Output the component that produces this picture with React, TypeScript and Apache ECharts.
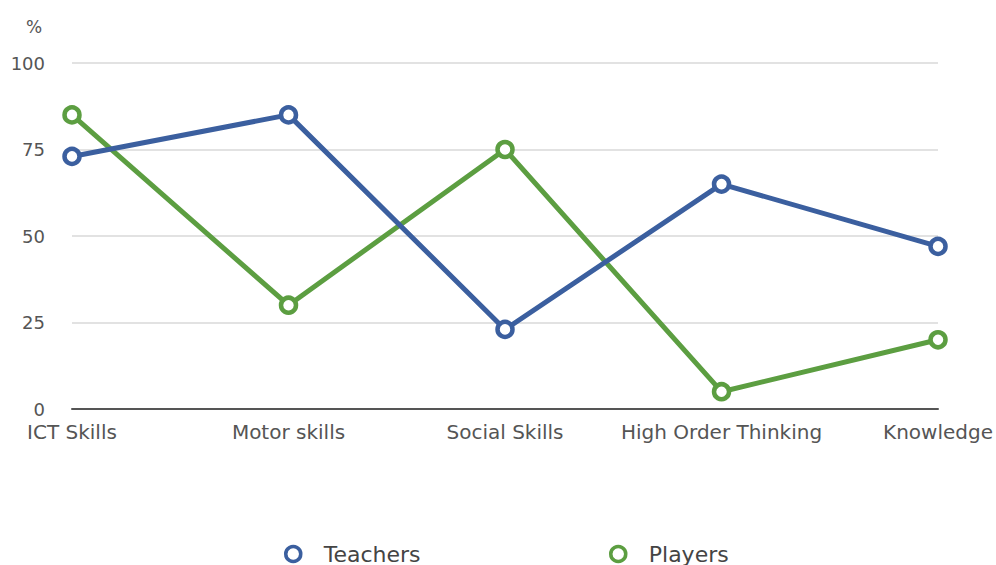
import React, { useEffect, useRef } from "react";
import * as echarts from "echarts";

const categories = ["ICT Skills", "Motor skills", "Social Skills", "High Order Thinking", "Knowledge"];
const teachers = [73, 85, 23, 65, 47];
const players = [85, 30, 75, 5, 20];
const yTicks = [0, 25, 50, 75, 100];

const BLUE = "#3b5f9f";
const GREEN = "#5c9e41";
const FONT = "DejaVu Sans";

function legendFor(name: string, color: string, left: number) {
  return {
    left,
    top: 538,
    icon: "circle",
    itemWidth: 17,
    itemHeight: 15,
    textStyle: { fontSize: 22, fontFamily: FONT, color: "#444", padding: [0, 0, 0, 17] },
    data: [
      {
        name,
        itemStyle: { color: "#ffffff", borderColor: color, borderWidth: 3.5 },
      },
    ],
  };
}

export default function App() {
  const ref = useRef<HTMLDivElement>(null);
  useEffect(() => {
    const chart = echarts.init(ref.current!, null, { renderer: "svg" });
    chart.setOption({
      animation: false,
      backgroundColor: "#ffffff",
      grid: { left: 72, right: 56, top: 63, bottom: 156, containLabel: false },
      graphic: [
        {
          type: "text",
          x: 34,
          y: 27,
          style: {
            text: "%",
            fontSize: 17,
            fontFamily: FONT,
            fill: "#555",
            align: "center",
            verticalAlign: "middle",
          },
        },
      ],
      legend: [legendFor("Teachers", BLUE, 279), legendFor("Players", GREEN, 604)],
      xAxis: {
        type: "category",
        data: categories,
        boundaryGap: false,
        axisLine: { lineStyle: { color: "#555", width: 2 } },
        axisTick: { show: false },
        axisLabel: { fontSize: 20, fontFamily: FONT, color: "#555", margin: 13, interval: 0 },
        splitLine: { show: false },
      },
      yAxis: {
        type: "value",
        min: yTicks[0],
        max: yTicks[yTicks.length - 1],
        interval: 25,
        axisLine: { show: false },
        axisTick: { show: false },
        axisLabel: { fontSize: 18, fontFamily: FONT, color: "#555", margin: 27 },
        splitLine: { lineStyle: { color: "#d8d8d8", width: 1.5 } },
      },
      series: [
        {
          name: "Teachers",
          type: "line",
          data: teachers,
          symbol: "circle",
          symbolSize: 15,
          lineStyle: { color: BLUE, width: 5 },
          itemStyle: { color: "#ffffff", borderColor: BLUE, borderWidth: 4.5 },
          z: 3,
        },
        {
          name: "Players",
          type: "line",
          data: players,
          symbol: "circle",
          symbolSize: 15,
          lineStyle: { color: GREEN, width: 5 },
          itemStyle: { color: "#ffffff", borderColor: GREEN, borderWidth: 4.5 },
          z: 2,
        },
      ],
    });
    return () => chart.dispose();
  }, []);
  return (
    <div
      ref={ref}
      style={{ position: "fixed", left: 0, top: 0, width: 996, height: 565 }}
    />
  );
}
